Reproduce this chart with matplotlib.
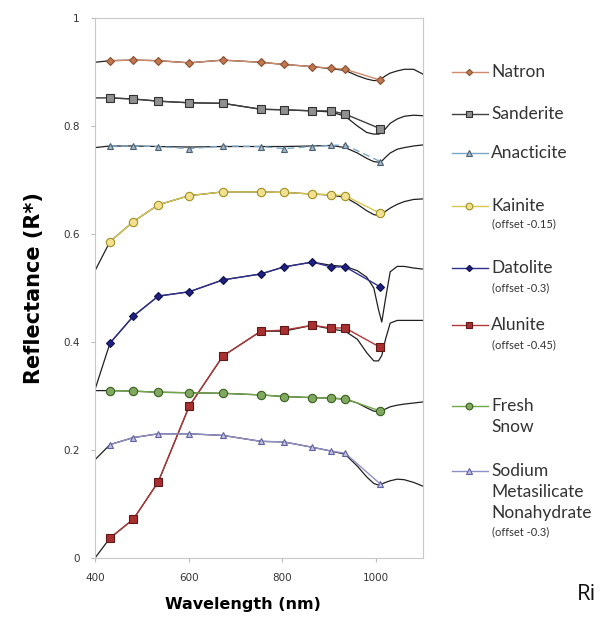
import matplotlib
matplotlib.use("Agg")
import matplotlib.pyplot as plt
from matplotlib.lines import Line2D

# ---------------- data ----------------
filter_wl = [432, 482, 535, 601, 673, 754, 803, 864, 904, 934, 1009]
lab_wl = [400, 432, 482, 535, 601, 673, 754, 803, 864, 904, 934, 960, 980,
          995, 1005, 1012, 1020, 1030, 1045, 1060, 1080, 1100]

natron_f = [0.921, 0.922, 0.921, 0.917, 0.922, 0.918, 0.914, 0.910, 0.907, 0.905, 0.885]
sanderite_f = [0.852, 0.850, 0.846, 0.843, 0.842, 0.831, 0.830, 0.828, 0.828, 0.822, 0.795]
anacticite_f = [0.763, 0.763, 0.762, 0.758, 0.763, 0.762, 0.758, 0.762, 0.764, 0.765, 0.734]
kainite_f = [0.586, 0.623, 0.654, 0.671, 0.678, 0.678, 0.677, 0.674, 0.673, 0.671, 0.638]
datolite_f = [0.398, 0.448, 0.485, 0.493, 0.515, 0.526, 0.539, 0.548, 0.539, 0.539, 0.502]
alunite_f = [0.037, 0.072, 0.141, 0.281, 0.374, 0.420, 0.422, 0.431, 0.426, 0.426, 0.390]
snow_f = [0.310, 0.309, 0.307, 0.306, 0.305, 0.302, 0.299, 0.297, 0.296, 0.295, 0.272]
sodium_f = [0.210, 0.223, 0.230, 0.230, 0.227, 0.216, 0.215, 0.205, 0.198, 0.194, 0.137]

natron_lab = [0.918, 0.921, 0.922, 0.921, 0.917, 0.922, 0.918, 0.914, 0.910, 0.906, 0.903,
              0.893, 0.887, 0.884, 0.885, 0.888, 0.893, 0.898, 0.902, 0.905, 0.905, 0.896]
sanderite_lab = [0.852, 0.852, 0.850, 0.846, 0.843, 0.842, 0.831, 0.830, 0.828, 0.826, 0.818,
                 0.800, 0.788, 0.785, 0.785, 0.787, 0.795, 0.805, 0.813, 0.818, 0.820, 0.819]
anacticite_lab = [0.760, 0.763, 0.763, 0.762, 0.761, 0.762, 0.762, 0.762, 0.763, 0.764, 0.760,
                  0.750, 0.740, 0.734, 0.733, 0.735, 0.742, 0.750, 0.757, 0.760, 0.763, 0.765]
kainite_lab = [0.532, 0.586, 0.623, 0.654, 0.671, 0.678, 0.678, 0.677, 0.674, 0.672, 0.668,
               0.655, 0.643, 0.636, 0.634, 0.636, 0.642, 0.648, 0.655, 0.660, 0.664, 0.665]
datolite_lab = [0.312, 0.398, 0.448, 0.485, 0.493, 0.515, 0.526, 0.539, 0.548, 0.542, 0.540,
                0.532, 0.520, 0.500, 0.460, 0.437, 0.480, 0.530, 0.540, 0.540, 0.537, 0.535]
alunite_lab = [0.000, 0.037, 0.072, 0.141, 0.281, 0.374, 0.420, 0.420, 0.431, 0.424, 0.420,
               0.405, 0.380, 0.365, 0.365, 0.375, 0.405, 0.435, 0.440, 0.440, 0.440, 0.440]
snow_lab = [0.310, 0.310, 0.309, 0.307, 0.306, 0.305, 0.302, 0.299, 0.297, 0.296, 0.294,
            0.287, 0.278, 0.272, 0.271, 0.272, 0.276, 0.280, 0.283, 0.285, 0.287, 0.289]
sodium_lab = [0.182, 0.210, 0.223, 0.230, 0.230, 0.227, 0.216, 0.215, 0.205, 0.198, 0.192,
              0.170, 0.150, 0.138, 0.135, 0.137, 0.140, 0.143, 0.146, 0.145, 0.140, 0.133]

names = [["Natron"], ["Sanderite"], ["Anacticite"], ["Kainite"], ["Datolite"], ["Alunite"],
         ["Fresh", "Snow"], ["Sodium", "Metasilicate", "Nonahydrate"]]
offsets = ["", "", "", "(offset -0.15)", "(offset -0.3)", "(offset -0.45)", "", "(offset -0.3)"]
filt_series = [natron_f, sanderite_f, anacticite_f, kainite_f, datolite_f, alunite_f, snow_f, sodium_f]
lab_series = [natron_lab, sanderite_lab, anacticite_lab, kainite_lab, datolite_lab,
              alunite_lab, snow_lab, sodium_lab]

# ---------------- styles ----------------
styles = [
    dict(color="#d08a6a", marker="D", mfc="#c07850", mec="#8a5030", ms=4, ls="-"),
    dict(color="#404040", marker="s", mfc="#909090", mec="#303030", ms=6, ls="-"),
    dict(color="#7aa8c8", marker="^", mfc="#a0b8c8", mec="#506070", ms=5, ls=(0, (5, 3))),
    dict(color="#d8c850", marker="o", mfc="#f0e090", mec="#a09020", ms=6, ls="-"),
    dict(color="#303090", marker="D", mfc="#202080", mec="#101050", ms=4, ls="-"),
    dict(color="#b03838", marker="s", mfc="#a83030", mec="#601818", ms=6, ls="-"),
    dict(color="#70a848", marker="o", mfc="#80a860", mec="#3a6020", ms=6, ls="-"),
    dict(color="#9090c8", marker="^", mfc="#c0c0e0", mec="#6060a0", ms=5, ls="-"),
]

W, H = 606, 620
fig = plt.figure(figsize=(W / 100, H / 100), dpi=100)
ax = fig.add_axes([95 / W, 1 - 558 / H, (423 - 95) / W, (558 - 18) / H])

for lab, filt, st in zip(lab_series, filt_series, styles):
    ax.plot(lab_wl, lab, color="#202020", lw=0.9, zorder=2)
    ax.plot(filter_wl, filt, color=st["color"], lw=1.0, ls=st["ls"], marker=st["marker"],
            markersize=st["ms"], markerfacecolor=st["mfc"], markeredgecolor=st["mec"],
            markeredgewidth=0.8, zorder=3)

ax.set_xlim(400, 1100)
ax.set_ylim(0, 1)
ax.set_xticks([400, 600, 800, 1000])
ax.set_yticks([0, 0.2, 0.4, 0.6, 0.8, 1.0])
ax.set_yticklabels(["0", "0.2", "0.4", "0.6", "0.8", "1"])
for s in ax.spines.values():
    s.set_color("#c8c8c8")
    s.set_linewidth(0.8)
ax.tick_params(axis="both", labelsize=7.5, colors="#bbbbbb", labelcolor="#333333",
               length=3, width=0.8)
ax.tick_params(axis="x", pad=8)
ax.tick_params(axis="y", pad=8)
ax.set_xlabel("Wavelength (nm)", fontsize=11.5, fontweight="bold")
ax.xaxis.set_label_coords(0.451, -0.072)
ax.set_ylabel("Reflectance (R*)", fontsize=15, fontweight="bold", labelpad=14)

# ---------------- manual legend ----------------
ly = [72, 114, 153, 206, 268, 325, 406, 471]
off_y = [None, None, None, 224, 288, 345, None, 532]
line_step = 21
for name_lines, off, st, y, oy in zip(names, offsets, styles, ly, off_y):
    yf = 1 - y / H
    line = Line2D([452 / W, 488 / W], [yf, yf], transform=fig.transFigure,
                  color=st["color"], lw=1.0)
    mk = Line2D([469 / W], [yf], transform=fig.transFigure, ls="none",
                marker=st["marker"], markersize=st["ms"] * 0.8,
                markerfacecolor=st["mfc"], markeredgecolor=st["mec"], markeredgewidth=0.8)
    fig.add_artist(line)
    fig.add_artist(mk)
    for k, txt in enumerate(name_lines):
        fig.text(491 / W, 1 - (y + k * line_step) / H, txt, fontsize=12.5, family="Lato",
                 color="#333333", va="center")
    if off:
        fig.text(492 / W, 1 - oy / H, off, fontsize=8, family="Lato",
                 color="#333333", va="center")

fig.text(577 / W, 1 - 595 / H, "Ri", fontsize=16, family="Open Sans", color="#111111",
         va="center")

fig.savefig("out.png", dpi=100, facecolor="white")
